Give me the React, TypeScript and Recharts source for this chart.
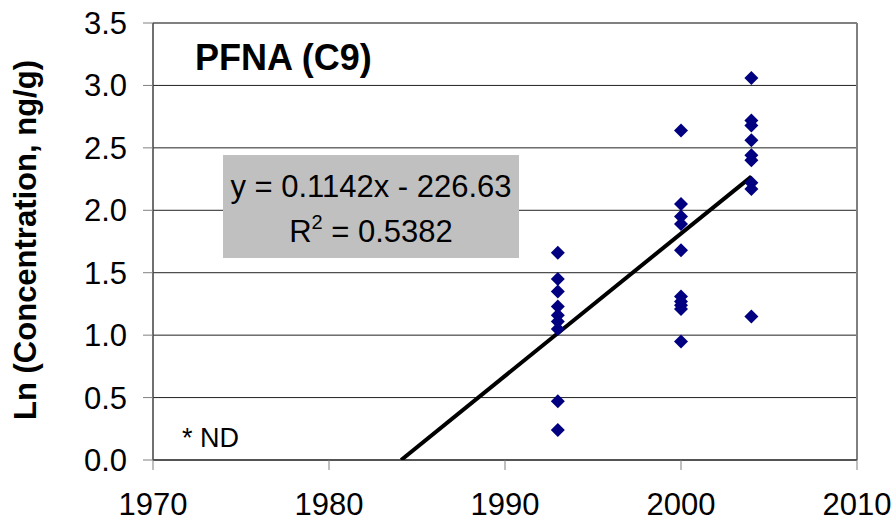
import React from 'react';
import {
  ScatterChart,
  Scatter,
  XAxis,
  YAxis,
  CartesianGrid,
  ReferenceLine,
} from 'recharts';

const FONT = "'Liberation Sans', Arial, sans-serif";

const xTicks = [1970, 1980, 1990, 2000, 2010];
const yTicks = [0, 0.5, 1.0, 1.5, 2.0, 2.5, 3.0, 3.5];

const values1993 = [1.66, 1.45, 1.35, 1.23, 1.16, 1.11, 1.05, 0.47, 0.24];
const values2000 = [2.64, 2.05, 1.95, 1.89, 1.68, 1.31, 1.27, 1.24, 1.21, 0.95];
const values2004 = [3.06, 2.72, 2.68, 2.56, 2.44, 2.4, 2.22, 2.17, 1.15];

// trendline end points as drawn in the reference
const trendYears = [1984.1, 2004];
const trendValues = [0, 2.27];

const points = [
  ...values1993.map((value) => ({ year: 1993, value })),
  ...values2000.map((value) => ({ year: 2000, value })),
  ...values2004.map((value) => ({ year: 2004, value })),
];
const trend = trendYears.map((year, i) => ({ year, value: trendValues[i] }));

const Diamond = (props: any) => {
  const { cx, cy } = props;
  const r = 7;
  return (
    <polygon
      points={`${cx},${cy - r} ${cx + r},${cy} ${cx},${cy + r} ${cx - r},${cy}`}
      fill="#000080"
    />
  );
};

const App = () => {
  return (
    <div style={{ position: 'relative', width: 896, height: 521 }}>
      <style>{`body{margin:0}`}</style>
      <ScatterChart
        width={896}
        height={521}
        margin={{ top: 23, right: 39, bottom: 0, left: 73 }}
      >
        <CartesianGrid
          horizontal
          vertical={false}
          stroke="#222"
          strokeWidth={1}
        />
        <XAxis
          type="number"
          dataKey="year"
          domain={[1970, 2010]}
          ticks={xTicks}
          height={61}
          tickSize={10}
          tickMargin={23}
          axisLine={{ stroke: '#404040', strokeWidth: 1.5 }}
          tickLine={{ stroke: '#808080' }}
          tick={{ fontSize: 31, fill: '#000', fontFamily: FONT }}
          allowDataOverflow
        />
        <YAxis
          type="number"
          dataKey="value"
          domain={[0, 3.5]}
          ticks={yTicks}
          width={80}
          tickSize={10}
          tickMargin={16}
          tickFormatter={(v: number) => v.toFixed(1)}
          axisLine={{ stroke: '#404040', strokeWidth: 1.5 }}
          tickLine={{ stroke: '#808080' }}
          tick={{ fontSize: 31, fill: '#000', fontFamily: FONT }}
          allowDataOverflow
        />
        <ReferenceLine y={3.5} stroke="#808080" strokeWidth={2} />
        <ReferenceLine x={2010} stroke="#808080" strokeWidth={2} />
        <Scatter
          data={trend}
          line={{ stroke: '#000', strokeWidth: 4 }}
          shape={() => <g />}
          isAnimationActive={false}
        />
        <Scatter data={points} shape={Diamond} isAnimationActive={false} />
      </ScatterChart>
      <svg
        width={896}
        height={521}
        style={{ position: 'absolute', left: 0, top: 0, pointerEvents: 'none' }}
        fontFamily={FONT}
      >
        <text
          transform="translate(36,240) rotate(-90)"
          textAnchor="middle"
          fontSize={31}
          fontWeight="bold"
        >
          Ln (Concentration, ng/g)
        </text>
        <text x={195} y={70} fontSize={36} fontWeight="bold">
          PFNA (C9)
        </text>
        <text x={182} y={447} fontSize={27}>
          * ND
        </text>
        <rect x={223} y={155} width={296} height={103} fill="#c0c0c0" />
        <text x={371} y={197} fontSize={31} textAnchor="middle">
          y = 0.1142x - 226.63
        </text>
        <text x={371} y={242} fontSize={31} textAnchor="middle">
          R<tspan fontSize={20} dy={-13}>2</tspan>
          <tspan dy={13}> = 0.5382</tspan>
        </text>
      </svg>
    </div>
  );
};

export default App;
